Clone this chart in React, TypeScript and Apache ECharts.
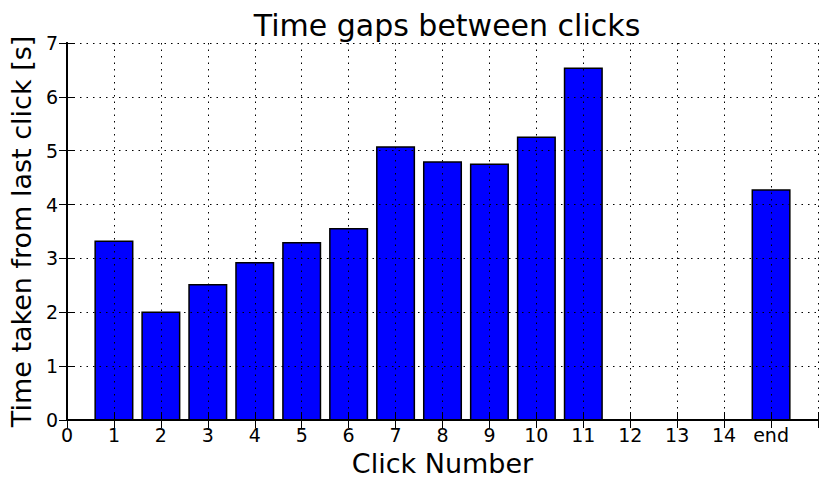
import React, { useEffect, useRef } from "react";
import * as echarts from "echarts";

const clickPositions = [1, 2, 3, 4, 5, 6, 7, 8, 9, 10, 11, 15];
const gapSeconds = [3.32, 2.0, 2.51, 2.92, 3.29, 3.55, 5.07, 4.79, 4.75, 5.25, 6.53, 4.27];
const xTickLabels = ["0", "1", "2", "3", "4", "5", "6", "7", "8", "9", "10", "11", "12", "13", "14", "end", ""];
const titleText = "Time gaps between clicks";
const xTitle = "Click Number";
const yTitle = "Time taken from last click [s]";

const FONT = "DejaVu Sans";

export default function App() {
  const ref = useRef<HTMLDivElement>(null);
  useEffect(() => {
    const chart = echarts.init(ref.current!, null, { renderer: "svg" });
    const data = clickPositions.map((x, i) => [x, gapSeconds[i]]);
    const gridLine = { show: true, lineStyle: { color: "#000", type: [1.5, 5] as any, width: 1 } };
    const frame = { show: true, lineStyle: { color: "#000", width: 2 } };
    const ticks = { show: true, inside: true, length: 8, lineStyle: { color: "#000", width: 1 } };
    const option: any = {
      animation: false,
      backgroundColor: "#fff",
      title: {
        text: titleText,
        left: 442,
        textAlign: "center",
        top: 5,
        textStyle: { fontFamily: FONT, fontSize: 30, fontWeight: "normal", color: "#000" },
      },
      grid: { left: 66, right: 12, top: 43, bottom: 73 },
      xAxis: [
        {
          type: "value",
          min: 0,
          max: 16,
          interval: 1,
          z: 10,
          name: xTitle,
          nameLocation: "middle",
          nameGap: 30,
          nameTextStyle: { fontFamily: FONT, fontSize: 27, color: "#000" },
          axisLine: frame,
          axisTick: ticks,
          axisLabel: {
            fontFamily: FONT,
            fontSize: 19,
            color: "#000",
            margin: 5,
            formatter: (v: number) => xTickLabels[Math.round(v)] ?? "",
          },
          splitLine: gridLine,
        },
        {
          type: "value",
          position: "top",
          min: 0,
          max: 16,
          interval: 1,
          z: 10,
          axisLine: frame,
          axisTick: ticks,
          axisLabel: { show: false },
          splitLine: { show: false },
        },
      ],
      yAxis: [
        {
          type: "value",
          min: 0,
          max: 7,
          interval: 1,
          z: 10,
          name: yTitle,
          nameLocation: "middle",
          nameGap: 32,
          nameTextStyle: { fontFamily: FONT, fontSize: 27, color: "#000" },
          axisLine: frame,
          axisTick: ticks,
          axisLabel: { fontFamily: FONT, fontSize: 19, color: "#000", margin: 9 },
          splitLine: gridLine,
        },
        {
          type: "value",
          position: "right",
          min: 0,
          max: 7,
          interval: 1,
          z: 10,
          axisLine: frame,
          axisTick: ticks,
          axisLabel: { show: false },
          splitLine: { show: false },
        },
      ],
      series: [
        {
          type: "custom",
          xAxisIndex: 0,
          yAxisIndex: 0,
          data,
          z: 2,
          renderItem: (params: any, api: any) => {
            const x = api.value(0);
            const y = api.value(1);
            const p0 = api.coord([x - 0.4, y]);
            const p1 = api.coord([x + 0.4, 0]);
            return {
              type: "rect",
              shape: { x: p0[0], y: p0[1], width: p1[0] - p0[0], height: p1[1] - p0[1] },
              style: { fill: "#0000ff", stroke: "#000", lineWidth: 1.5 },
            };
          },
        },
      ],
    };
    chart.setOption(option);
    return () => chart.dispose();
  }, []);
  return (
    <div
      ref={ref}
      style={{ position: "fixed", left: 0, top: 0, width: 830, height: 493 }}
    />
  );
}
